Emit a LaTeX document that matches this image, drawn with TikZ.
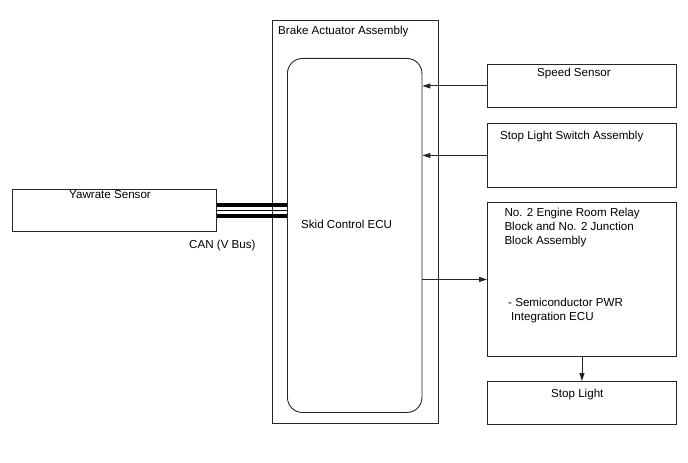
\documentclass[tikz,border=0pt]{standalone}
\usepackage{fontspec}
\setmainfont{Liberation Sans}
\usetikzlibrary{arrows.meta}
\begin{document}
\begin{tikzpicture}[x=1bp,y=-1bp,
  box/.style={draw=black!85, line width=0.9bp, rectangle, inner sep=0pt, anchor=north west},
  txt/.style={inner sep=0pt, anchor=base west, font=\fontsize{11.6bp}{13.8bp}\selectfont, align=left},
  arr/.style={draw=black!85, line width=0.9bp, -{Triangle[length=8bp,width=5bp]}}]
\useasboundingbox (0,0) rectangle (688,463);
% outer assembly
\node[box, minimum width=166bp, minimum height=403bp] (outer) at (272,20) {};
\node[box, rounded corners=15bp, minimum width=134.5bp, minimum height=354bp] (ecu) at (287,58) {};
% right boxes
\node[box, minimum width=189bp, minimum height=43bp] (speed) at (487,64) {};
\node[box, minimum width=189bp, minimum height=64bp] (sls) at (487,123) {};
\node[box, minimum width=189bp, minimum height=154bp] (relay) at (487,202) {};
\node[box, minimum width=189bp, minimum height=43bp] (stop) at (487,381) {};
% yawrate
\node[box, minimum width=204bp, minimum height=42bp] (yaw) at (12,189) {};
% texts
\node[txt] (tbrake) at (278,35) {Brake Actuator Assembly};
\node[txt] (tspeed) at (537,76.7) {Speed Sensor};
\node[txt] (tsls) at (500,140) {Stop Light Switch Assembly};
\node[txt] (tyaw) at (69,198.5) {Yawrate Sensor};
\node[txt] (tecu) at (301,228.3) {Skid Control ECU};
\node[txt] (tcan) at (189,248.3) {CAN (V Bus)};
\node[txt] (trelay1) at (504.3,216.7) {No. 2 Engine Room Relay};
\node[txt] (trelay2) at (504.3,230.5) {Block and No. 2 Junction};
\node[txt] (trelay3) at (504.3,244.3) {Block Assembly};
\node[txt] (tsemi) at (508,306.7) {- Semiconductor PWR};
\node[txt] (tint) at (511,320.7) {Integration ECU};
\node[txt] (tstop) at (551,397.3) {Stop Light};
% arrows
\draw[arr] (speed.west) -- (ecu.east |- speed.west);
\draw[arr] (sls.west) -- (ecu.east |- sls.west);
\draw[arr] (ecu.east |- relay.west) -- (relay.west);
\draw[arr] (relay.south) -- (stop.north);
% CAN bus
\draw[line width=4.3bp] ([yshift=-5.6bp]yaw.east) -- ([yshift=-5.6bp]yaw.east -| ecu.west);
\draw[line width=1bp] (yaw.east) -- (yaw.east -| ecu.west);
\draw[line width=4.3bp] ([yshift=5.6bp]yaw.east) -- ([yshift=5.6bp]yaw.east -| ecu.west);
\end{tikzpicture}
\end{document}
